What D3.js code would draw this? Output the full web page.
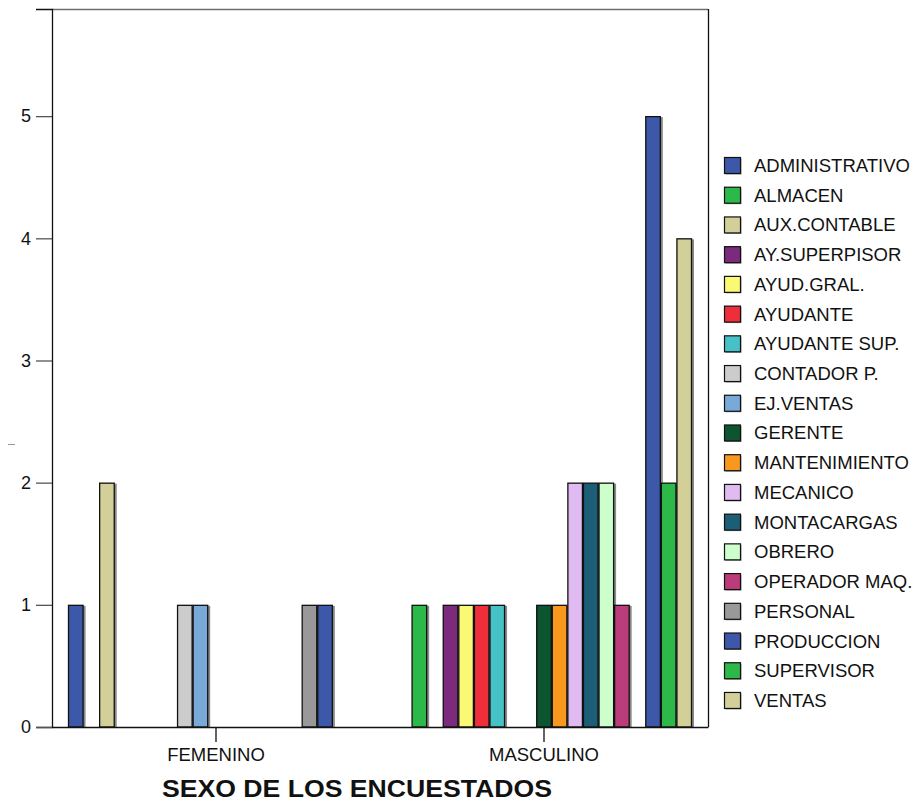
<!DOCTYPE html>
<html>
<head>
<meta charset="utf-8">
<script src="https://cdn.jsdelivr.net/npm/d3@7"></script>
<style>
  html, body { margin: 0; padding: 0; background: #fff; }
  svg { display: block; font-family: "Liberation Sans", Arial, sans-serif; }
</style>
</head>
<body>
<svg id="chart" width="916" height="803"></svg>
<script>
// Groups on the x axis
const groups = ["FEMENINO", "MASCULINO"];

// Occupations (one bar per occupation inside each group)
const occupations = [
  "ADMINISTRATIVO", "ALMACEN", "AUX.CONTABLE", "AY.SUPERPISOR", "AYUD.GRAL.",
  "AYUDANTE", "AYUDANTE SUP.", "CONTADOR P.", "EJ.VENTAS", "GERENTE",
  "MANTENIMIENTO", "MECANICO", "MONTACARGAS", "OBRERO", "OPERADOR MAQ.",
  "PERSONAL", "PRODUCCION", "SUPERVISOR", "VENTAS"
];

// Counts per occupation
const femenino  = [1, 0, 2, 0, 0, 0, 0, 1, 1, 0, 0, 0, 0, 0, 0, 1, 1, 0, 0];
const masculino = [0, 1, 0, 1, 1, 1, 1, 0, 0, 1, 1, 2, 2, 2, 1, 0, 5, 2, 4];

const yTicks = [0, 1, 2, 3, 4, 5];

const palette = [
  "#3d58a8", "#2db84a", "#d3cf98", "#7c2a7e", "#fbf873",
  "#ee2f3a", "#46c1c6", "#cccccc", "#79a9d8", "#0c5530",
  "#f8981f", "#dfbbf1", "#1c5e75", "#ccffcc", "#ba3c7b",
  "#999999", "#3d58a8", "#2db84a", "#d3cf98"
];

const xTitle = "SEXO DE LOS ENCUESTADOS";

const seriesByGroup = [femenino, masculino];

const svg = d3.select("#chart");
const plot = { left: 52, right: 708, top: 9, bottom: 727 };

const x0 = d3.scaleBand().domain(groups).range([plot.left, plot.right]).paddingInner(0).paddingOuter(0);
const groupInner = 296;
const x1 = d3.scaleBand().domain(occupations).range([0, groupInner]).padding(0);
const y = d3.scaleLinear().domain([0, 5.877]).range([plot.bottom, plot.top]);
const color = d3.scaleOrdinal().domain(occupations).range(palette);

// Bars
const bars = [];
groups.forEach((g, gi) => {
  occupations.forEach((o, oi) => {
    const v = seriesByGroup[gi][oi];
    if (v > 0) bars.push({ group: g, occ: o, value: v });
  });
});

const gx = g => x0(g) + (x0.bandwidth() - groupInner) / 2;

const barLayer = svg.append("g");
// soft gray shadow to the right of each bar
barLayer.selectAll("rect.shadow").data(bars).join("rect")
  .attr("class", "shadow")
  .attr("x", d => gx(d.group) + x1(d.occ) + 2)
  .attr("y", d => y(d.value) + 1)
  .attr("width", x1.bandwidth())
  .attr("height", d => y(0) - y(d.value) - 1)
  .attr("fill", "#8a8a8a");

barLayer.selectAll("rect.bar").data(bars).join("rect")
  .attr("class", "bar")
  .attr("x", d => gx(d.group) + x1(d.occ) + 0.5)
  .attr("y", d => y(d.value) + 0.5)
  .attr("width", x1.bandwidth() - 1)
  .attr("height", d => y(0) - y(d.value) - 0.5)
  .attr("fill", d => color(d.occ))
  .attr("stroke", "#111")
  .attr("stroke-width", 1.3);

// Frame
svg.append("line").attr("x1", plot.left).attr("x2", plot.right)
  .attr("y1", plot.top + 0.5).attr("y2", plot.top + 0.5)
  .attr("stroke", "#6e6e6e").attr("stroke-width", 1.5);
svg.append("line").attr("x1", plot.right + 0.5).attr("x2", plot.right + 0.5)
  .attr("y1", plot.top).attr("y2", plot.bottom)
  .attr("stroke", "#111").attr("stroke-width", 1.3);

// Y axis
const yAxis = d3.axisLeft(y).tickValues(yTicks).tickSize(16).tickPadding(5).tickFormat(d3.format("d"));
const yg = svg.append("g").attr("transform", `translate(${plot.left},0)`).call(yAxis);
yg.select(".domain").attr("stroke", "#111").attr("stroke-width", 1.3);
yg.selectAll(".tick line").attr("stroke", "#555").attr("stroke-width", 1.3);
yg.selectAll(".tick text").attr("font-size", 18).attr("fill", "#111")
  .attr("font-family", "Liberation Sans, Arial, sans-serif");

// X axis
const xAxis = d3.axisBottom(x0).tickSize(15).tickPadding(6).tickSizeOuter(0);
const xg = svg.append("g").attr("transform", `translate(0,${plot.bottom})`).call(xAxis);
xg.select(".domain").attr("stroke", "#111").attr("stroke-width", 1.3);
xg.selectAll(".tick line").attr("stroke", "#111").attr("stroke-width", 1.3);
xg.selectAll(".tick text").attr("font-size", 18.5).attr("fill", "#111")
  .attr("font-family", "Liberation Sans, Arial, sans-serif");

// X axis title
svg.append("text")
  .attr("x", 357).attr("y", 797)
  .attr("text-anchor", "middle")
  .attr("font-size", 24).attr("font-weight", "bold").attr("fill", "#111")
  .attr("textLength", 390).attr("lengthAdjust", "spacingAndGlyphs")
  .text(xTitle);

// small mark where the y axis title sits
svg.append("line").attr("x1", 8).attr("x2", 15).attr("y1", 444.5).attr("y2", 444.5)
  .attr("stroke", "#999").attr("stroke-width", 1);

// Legend
const legend = svg.append("g").attr("transform", "translate(724,157)");
const rowH = 29.72;
const items = legend.selectAll("g").data(occupations).join("g")
  .attr("transform", (d, i) => `translate(0,${i * rowH})`);
items.append("rect")
  .attr("x", 1.5).attr("y", 1.5).attr("width", 16).attr("height", 16)
  .attr("fill", "#9a9a9a");
items.append("rect")
  .attr("x", 0.5).attr("y", 0.5).attr("width", 16).attr("height", 16)
  .attr("fill", d => color(d)).attr("stroke", "#111").attr("stroke-width", 1.2);
items.append("text")
  .attr("x", 30).attr("y", 15)
  .attr("font-size", 18.5).attr("fill", "#111")
  .text(d => d);
</script>
</body>
</html>
